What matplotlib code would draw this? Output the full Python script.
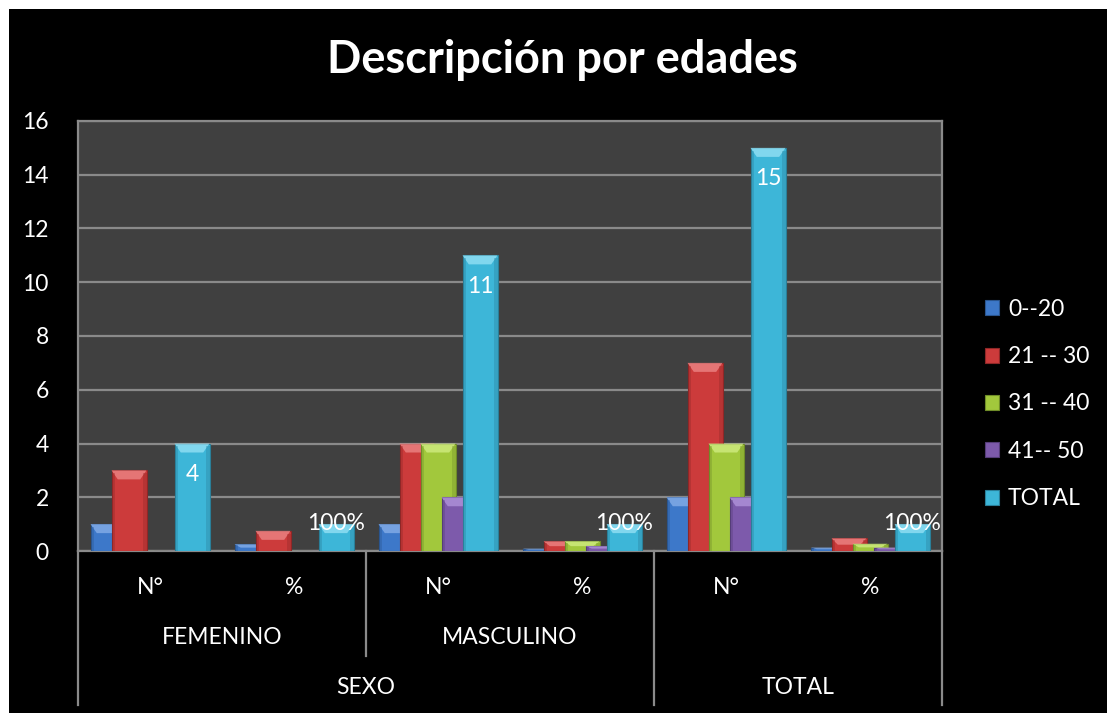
import matplotlib
matplotlib.use("Agg")
import matplotlib.pyplot as plt
from matplotlib.patches import Rectangle, Polygon
import numpy as np

plt.rcParams['font.family'] = ['Lato', 'DejaVu Sans']

title = "Descripción por edades"
categories = ["N°", "%", "N°", "%", "N°", "%"]
groups = ["FEMENINO", "MASCULINO"]
top_groups = ["SEXO", "TOTAL"]
series_names = ["0--20", "21 -- 30", "31 -- 40", "41-- 50", "TOTAL"]
s_0_20 = [1, 0.25, 1, 0.09, 2, 0.13]
s_21_30 = [3, 0.75, 4, 0.36, 7, 0.47]
s_31_40 = [0, 0, 4, 0.36, 4, 0.27]
s_41_50 = [0, 0, 2, 0.18, 2, 0.13]
s_total = [4, 1, 11, 1, 15, 1]
total_labels = ["4", "100%", "11", "100%", "15", "100%"]
y_ticks = [0, 2, 4, 6, 8, 10, 12, 14, 16]

colors = ["#3d78c9", "#cc3b3b", "#a2c83c", "#7d5aab", "#3db6d8"]
dark = ["#2a558f", "#8f2727", "#6f8c28", "#553d78", "#2a7f99"]
light = ["#8fb5ec", "#f08f8f", "#d6f08a", "#b79be0", "#9fe6f8"]

W, H = 1107, 713
fig = plt.figure(figsize=(W / 100, H / 100), dpi=100)
fig.patch.set_facecolor("white")
fig.add_artist(Rectangle((9 / W, 0), 1 - 9 / W, 1 - 9 / H, transform=fig.transFigure,
                         facecolor="black", edgecolor="none", zorder=0))

ax = fig.add_axes([78 / W, 1 - 551 / H, (942 - 78) / W, (551 - 121) / H])
ax.set_facecolor("#404040")
ax.set_xlim(-0.5, 5.5)
ax.set_ylim(0, 16)
ax.set_yticks(y_ticks)
ax.set_yticklabels([str(t) for t in y_ticks], color="white", fontsize=16.5)
ax.tick_params(axis="y", length=0, pad=21)
ax.set_xticks([])
ax.grid(axis="y", color="#8a8a8a", linewidth=1.6)
ax.set_axisbelow(True)
for sp in ax.spines.values():
    sp.set_color("#8a8a8a")
    sp.set_linewidth(1.6)

all_series = [s_0_20, s_21_30, s_31_40, s_41_50, s_total]
x = np.arange(len(categories))
step = 21 / 144
width = 35 / 144
px_per_unit = 430 / 16
bev = 9 / px_per_unit
handles = []
for i, (vals, c) in enumerate(zip(all_series, colors)):
    xs = x + (i - 2) * step
    bars = ax.bar(xs, vals, width=width, color=c, edgecolor=dark[i], linewidth=0.8,
                  zorder=3 + i, label=series_names[i])
    handles.append(bars)
    for xi, v in zip(xs, vals):
        if v <= 0:
            continue
        h = min(bev, v * 0.5)
        dx = width * 0.18
        x0, x1 = xi - width / 2, xi + width / 2
        ax.add_patch(Polygon([(x0, v), (x1, v), (x1 - dx, v - h), (x0 + dx, v - h)],
                             closed=True, facecolor=light[i], edgecolor="none",
                             alpha=0.7, zorder=3 + i))
        ax.add_patch(Rectangle((x0, 0), width * 0.1, v - h * 0.3, facecolor=dark[i],
                               edgecolor="none", alpha=0.35, zorder=3 + i))
        ax.add_patch(Rectangle((x1 - width * 0.1, 0), width * 0.1, v - h * 0.3,
                               facecolor=dark[i], edgecolor="none", alpha=0.35, zorder=3 + i))

xs_tot = x + 2 * step
for k, (xi, v, lab) in enumerate(zip(xs_tot, s_total, total_labels)):
    if lab.endswith("%"):
        ax.annotate(lab, (xi, v), xytext=(0, 1), textcoords="offset pixels",
                    ha="center", va="center", color="white", fontsize=16.5, zorder=20)
    else:
        ax.annotate(lab, (xi, v), xytext=(0, -31), textcoords="offset pixels",
                    ha="center", va="center", color="white", fontsize=16.5, zorder=20)

# multi-level category axis
tr = ax.get_xaxis_transform()
ay = lambda py: (551 - py) / 430
for xi, lab in zip(x, categories):
    ax.text(xi, ay(587), lab, transform=tr, ha="center", va="center", color="white", fontsize=16.5)
for xi, lab in zip([0.5, 2.5], groups):
    ax.text(xi, ay(637), lab, transform=tr, ha="center", va="center", color="white", fontsize=16.5)
for xi, lab in zip([1.5, 4.5], top_groups):
    ax.text(xi, ay(688), lab, transform=tr, ha="center", va="center", color="white", fontsize=16.5)
for xv, yb in [(-0.5, 705), (1.5, 656), (3.5, 705), (5.5, 705)]:
    ax.plot([xv, xv], [0, ay(yb)], transform=tr, color="#8a8a8a", lw=1.6, clip_on=False)

fig.text(562 / W, 1 - 60 / H, title, ha="center", va="center", color="white",
         fontsize=32.5, fontweight="bold")

leg = fig.legend(handles=handles, labels=series_names, loc="center left",
                 bbox_to_anchor=(964 / W, 1 - 404 / H), frameon=False, fontsize=16.5,
                 labelcolor="white", handlelength=0.62, handleheight=0.62,
                 handletextpad=0.4, labelspacing=1.15)

fig.savefig("out.png", dpi=100, facecolor=fig.get_facecolor())
